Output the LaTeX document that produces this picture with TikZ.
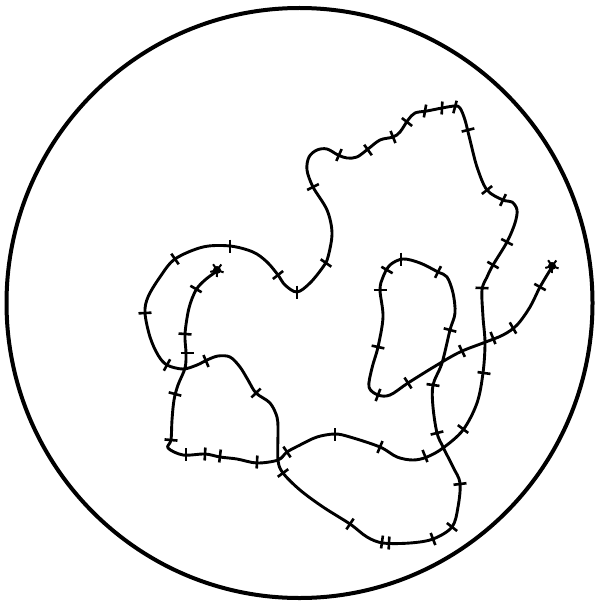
\documentclass[tikz,border=0pt]{standalone}
\begin{document}
\begin{tikzpicture}[x=1pt,y=-1pt,
  strand/.style={line width=2.9pt, line cap=round, line join=round},
  tickmark/.style={line width=2.6pt},
  rim/.style={line width=4pt}]
\useasboundingbox (0,0) rectangle (600,607);
\path[fill=white] (0,0) rectangle (600,607);
\draw[rim] (299.5,303) ellipse [x radius=293, y radius=295];
\draw[strand] plot[smooth, tension=0.55] coordinates {
(217,271) (205,280) (196,290) (189,308) (185,334) (186,353) (185,368) (178,385) (174,400) (172,420) (171,440) (168,448) (183,455) (205,454) (220,457) (237,459) (257,463) (278,460) (287,452) (300,445) (317,437) (335,434) (350,437) (380,447) (397,457) (413,460) (427,457) (443,448) (463,430) (477,403) (483,373) (485,343) (483,317) (482,290) (487,277) (493,265) (507,242) (515,223) (517,210) (512,202) (503,200) (487,190) (477,167) (470,140) (465,120) (460,108) (455,106) (442,108) (427,111) (415,113) (408,120) (400,132) (393,137) (380,140) (368,149) (357,157) (347,158) (338,155) (327,149) (317,150) (309,157) (307,170) (313,187) (327,210) (332,233) (328,257) (323,267) (310,283) (297,292) (285,285) (278,275) (267,262) (253,252) (230,246) (203,247) (175,259) (160,277) (148,297) (145,313) (150,337) (158,355) (167,365) (183,369) (197,365) (207,360) (218,356) (230,357) (240,367) (248,380) (256,393) (270,403) (277,417) (278,430) (278,460) (283,473) (300,490) (323,507) (350,524) (367,537) (383,543) (410,543) (433,539) (452,527) (458,507) (460,483) (453,467) (443,447) (437,433) (433,407) (433,385) (442,363) (450,330) (455,313) (453,293) (447,277) (438,272) (420,263) (403,259) (390,265) (383,277) (380,290) (383,317) (378,347) (372,368) (369,387) (378,395) (390,395) (408,383) (437,365) (460,352) (483,343) (503,335) (517,325) (530,307) (540,287) (552,267)};
\foreach \x/\y/\a in {196/289/120, 185/334/94, 187/353/90, 175/394/105, 171/440/95, 186/454/0, 205/454/3, 220/456/7, 257/462/3, 287/452/-34, 335/434/0, 380/447/23, 425/456/-22, 463/429/-53, 484/373/-82, 482/288/-88, 493/265/-60, 507/242/-62, 503/200/206, 487/190/232, 468/130/256, 455/107/195, 442/108/183, 425/111/190, 407/122/128, 393/137/158, 368/150/144, 339/155/204, 313/187/63, 326/263/125, 297/292/180, 278/275/232, 230/246/180, 175/259/145, 145/313/87, 167/365/29, 206/361/-23, 256/393/46, 283/473/54, 350/524/34, 382/542/8, 389/543/3, 433/539/-21, 452/527/-52, 460/484/-97, 437/433/-104, 433/385/-82, 450/330/-75, 438/272/207, 401/259/180, 387/270/120, 380/290/90, 378/347/102, 378/395/21, 408/383/-33, 462/351/-26, 493/338/-22, 513/328/-30, 540/287/-61}
  \draw[tickmark] ([shift={(\a+90:6.5)}]\x,\y) -- ([shift={(\a-90:6.5)}]\x,\y);
\foreach \cx/\cy in {552/266, 217/270}{
  \fill (\cx,\cy) circle (4);
  \foreach \b in {20,92,164,236,308}
    \draw[line width=2pt] (\cx,\cy) -- ++(\b:7);
}
\end{tikzpicture}
\end{document}
